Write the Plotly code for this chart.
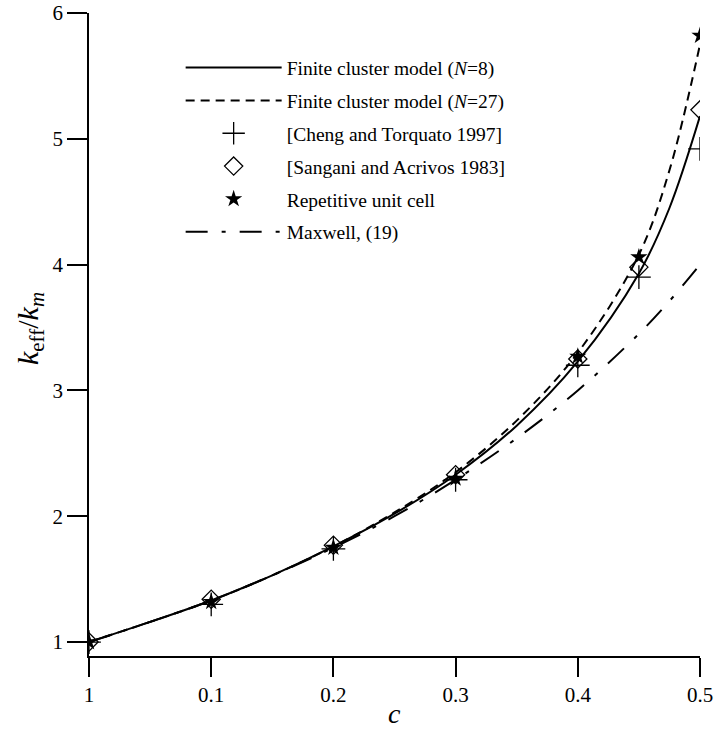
import plotly.graph_objects as go

# Curves
c_curve = [0.0, 0.05, 0.1, 0.15, 0.2, 0.25, 0.3, 0.35, 0.4, 0.45, 0.475, 0.5]
fc8 = [1.0, 1.16, 1.33, 1.53, 1.76, 2.02, 2.33, 2.72, 3.23, 3.93, 4.45, 5.18]
fc27 = [1.0, 1.16, 1.33, 1.53, 1.76, 2.03, 2.35, 2.76, 3.30, 4.08, 4.75, 5.75]
maxwell = [1.0, 1.16, 1.33, 1.53, 1.75, 2.0, 2.29, 2.62, 3.0, 3.45, 3.71, 4.0]

# Reference points
c_pts = [0.0, 0.1, 0.2, 0.3, 0.4, 0.45, 0.5]
cheng = [1.0, 1.30, 1.74, 2.29, 3.20, 3.90, 4.92]
sangani = [1.0, 1.34, 1.77, 2.33, 3.25, 3.98, 5.23]
rve = [1.0, 1.32, 1.75, 2.30, 3.27, 4.06, 5.82]

x_tickvals = [0, 0.1, 0.2, 0.3, 0.4, 0.5]
x_ticktext = ["1", "0.1", "0.2", "0.3", "0.4", "0.5"]
y_tickvals = [1, 2, 3, 4, 5, 6]

FONT = "Liberation Serif, Times New Roman, serif"

fig = go.Figure()
fig.add_trace(go.Scatter(x=c_curve, y=fc8, mode="lines", line=dict(color="black", width=2, shape="spline"),
                         name="Finite cluster model (<i>N</i>=8)", legendgroup="a"))
fig.add_trace(go.Scatter(x=c_curve, y=fc27, mode="lines", line=dict(color="black", width=2, dash="9px,6px", shape="spline"),
                         name="Finite cluster model (<i>N</i>=27)", legendgroup="b"))
fig.add_trace(go.Scatter(x=c_pts, y=cheng, mode="markers",
                         marker=dict(symbol="cross-thin-open", size=17, color="black", line=dict(color="black", width=1.3)),
                         name="[Cheng and Torquato 1997]", legendgroup="c"))
fig.add_trace(go.Scatter(x=c_pts, y=sangani, mode="markers",
                         marker=dict(symbol="diamond-open", size=14, color="black", line=dict(color="black", width=1.3)),
                         name="[Sangani and Acrivos 1983]", legendgroup="d"))
fig.add_trace(go.Scatter(x=c_pts, y=rve, mode="markers",
                         marker=dict(symbol="star", size=13, color="black", line=dict(width=0)),
                         name="Repetitive unit cell", legendgroup="e"))
fig.add_trace(go.Scatter(x=c_curve, y=maxwell, mode="lines",
                         line=dict(color="black", width=2, dash="22px,14px,4px,14px", shape="spline"),
                         name="Maxwell, (19)", legendgroup="f"))

fig.update_layout(
    width=714, height=730,
    margin=dict(l=89, r=14, t=13, b=74, autoexpand=False),
    plot_bgcolor="white", paper_bgcolor="white",
    font=dict(family=FONT, size=20, color="black"),
    showlegend=True,
    legend=dict(x=0.15, y=0.945, xanchor="left", yanchor="top", bgcolor="rgba(0,0,0,0)",
                font=dict(family=FONT, size=19.5), itemwidth=96, tracegroupgap=4.5),
    xaxis=dict(range=[0, 0.5], tickvals=x_tickvals, ticktext=x_ticktext, automargin=False,
               showgrid=False, zeroline=False, showline=True, linecolor="black", linewidth=1.5,
               ticks="outside", ticklen=19, tickwidth=1.5, tickcolor="black",
               tickfont=dict(family=FONT, size=21)),
    yaxis=dict(range=[0.889, 6], tickvals=y_tickvals, automargin=False,
               showgrid=False, zeroline=False, showline=True, linecolor="black", linewidth=1.5,
               ticks="outside", ticklen=20, tickwidth=1.5, tickcolor="black",
               tickfont=dict(family=FONT, size=21)),
    annotations=[
        dict(text="<i>c</i>", xref="paper", yref="paper", x=0.5, y=-0.089, xanchor="center", yanchor="middle",
             showarrow=False, font=dict(family=FONT, size=28)),
        dict(text="<i>k</i><sub>eff</sub>/<i>k<sub>m</sub></i>", xref="paper", yref="paper", x=-0.0966, y=0.51,
             xanchor="center", yanchor="middle", textangle=-90, showarrow=False, font=dict(family=FONT, size=30)),
    ],
)
fig.write_html("out.html", config={"displayModeBar": False},
               post_script="document.body.style.margin='0';document.body.style.overflow='hidden';")
